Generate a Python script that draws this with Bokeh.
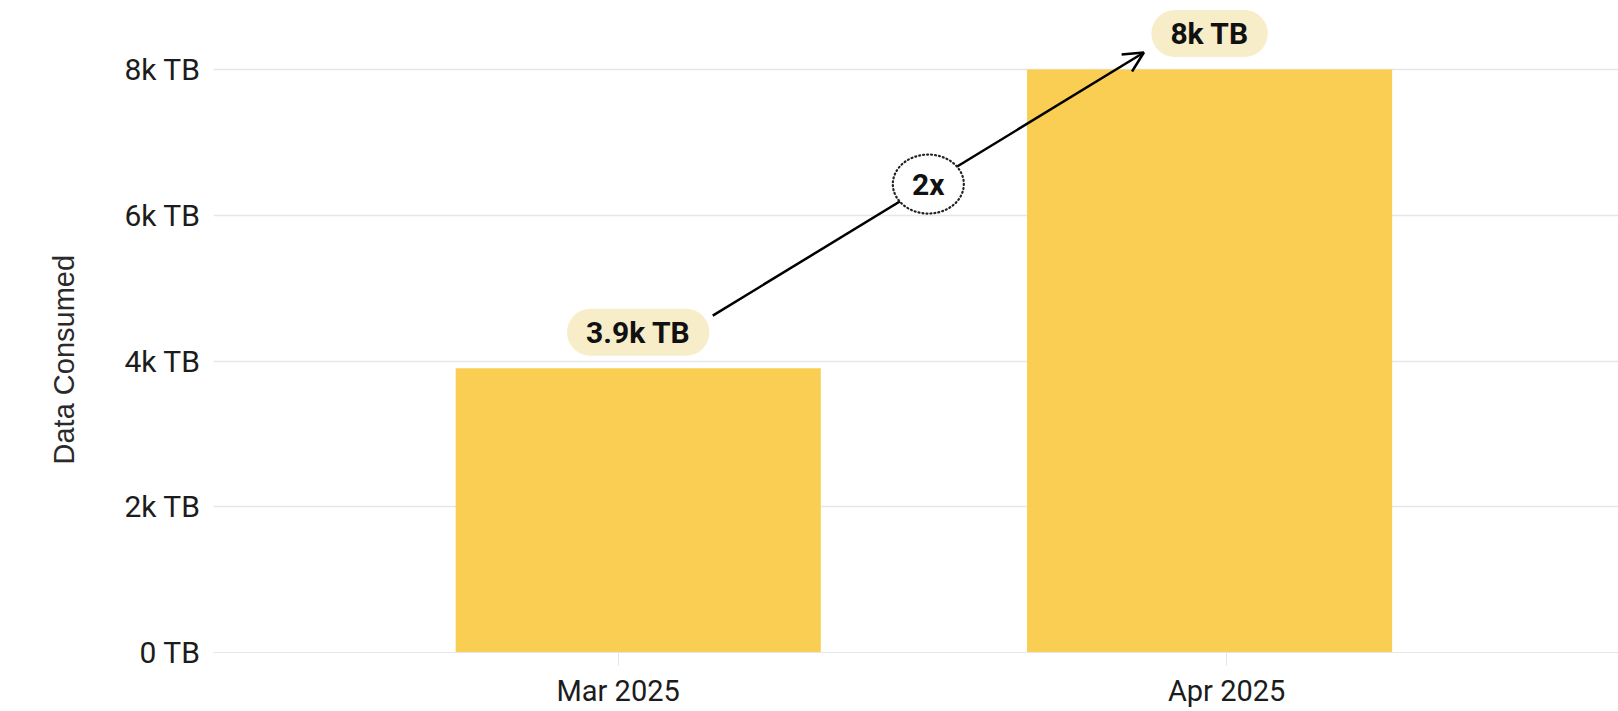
from bokeh.plotting import figure
from bokeh.models import Range1d, FixedTicker, Label, Arrow, OpenHead, Title
from bokeh.embed import file_html
from bokeh.resources import INLINE

# ---- data ----
categories = ["Mar 2025", "Apr 2025"]
values = [3900, 8000]                      # TB
y_ticks = [0, 2000, 4000, 6000, 8000]
y_tick_labels = ["0 TB", "2k TB", "4k TB", "6k TB", "8k TB"]
axis_title = "Data Consumed"

# ---- layout / style constants ----
FONT = "Roboto"
TITLE_FONT = "Liberation Sans"
BAR_COLOR = "#F9CE52"
BUBBLE_COLOR = "#F7EDC8"
GRID_COLOR = "#E6E6E6"
TEXT_COLOR = "#1C1C1C"
bar_shift = [0.033, -0.028]   # bars sit slightly inward from the month ticks
bar_width = 0.6

idx = list(range(len(categories)))
bar_x = [i + s for i, s in zip(idx, bar_shift)]

p = figure(width=1618, height=711, output_backend="svg", toolbar_location=None,
           x_range=Range1d(-0.665, 1.644), y_range=Range1d(0, 8947),
           min_border_left=213, min_border_right=0, min_border_top=0,
           min_border_bottom=59)
p.outline_line_color = None
p.background_fill_color = "white"

p.vbar(x=bar_x, top=values, width=bar_width, bottom=0,
       fill_color=BAR_COLOR, line_color=None)

# y axis
p.yaxis.ticker = FixedTicker(ticks=y_ticks)
p.yaxis.major_label_overrides = {t: l for t, l in zip(y_ticks, y_tick_labels)}
p.yaxis.axis_line_color = None
p.yaxis.major_tick_line_color = None
p.yaxis.minor_tick_line_color = None
p.yaxis.major_label_standoff = 7
p.yaxis.major_label_text_font = FONT
p.yaxis.major_label_text_font_size = "30px"
p.yaxis.major_label_text_color = TEXT_COLOR

# y axis title as a side title, so it can sit below the frame centre
p.add_layout(Title(text=axis_title, align="left", offset=188,
                   vertical_align="top", standoff=80,
                   text_font=TITLE_FONT, text_font_size="29px",
                   text_font_style="normal", text_color="#2a2a2a"), "left")

# x axis
p.xaxis.ticker = FixedTicker(ticks=idx)
p.xaxis.major_label_overrides = {i: c for i, c in zip(idx, categories)}
p.xaxis.axis_line_color = GRID_COLOR
p.xaxis.major_tick_line_color = GRID_COLOR
p.xaxis.major_tick_in = 0
p.xaxis.major_tick_out = 13
p.xaxis.minor_tick_line_color = None
p.xaxis.major_label_standoff = 8
p.xaxis.major_label_text_font = FONT
p.xaxis.major_label_text_font_size = "29px"
p.xaxis.major_label_text_color = TEXT_COLOR

p.xgrid.grid_line_color = None
p.ygrid.ticker = FixedTicker(ticks=y_ticks)
p.ygrid.grid_line_color = GRID_COLOR
p.ygrid.grid_line_width = 1.5

# value bubbles
for x, v in zip(bar_x, values):
    p.add_layout(Label(x=x, y=v, y_offset=36, text=f"{v/1000:g}k TB",
                       text_align="center", text_baseline="middle",
                       text_font=FONT, text_font_size="30px",
                       text_font_style="bold", text_color="#111111",
                       background_fill_color=BUBBLE_COLOR,
                       padding=dict(x=19, y=6), border_radius=24))

# growth arrow (positioned relative to the bars)
ax0, ay0 = bar_x[0] + 0.1225, values[0] + 723
ax1, ay1 = bar_x[1] - 0.108, values[1] + 233
p.add_layout(Arrow(x_start=ax0, y_start=ay0, x_end=ax1, y_end=ay1,
                   line_color="black", line_width=2.5,
                   end=OpenHead(size=20, line_width=2.5, line_color="black")))

mx, my = (ax0 + ax1) / 2, (ay0 + ay1) / 2
ell = p.ellipse(x=[mx], y=[my], width=71, height=59, width_units="screen",
                height_units="screen", fill_color="white", line_color="#222222",
                line_width=2.2, line_dash="1 3", line_cap="round")
ell.level = "overlay"
p.add_layout(Label(x=mx, y=my, text=f"{round(values[1]/values[0])}x",
                   text_align="center", text_baseline="middle",
                   text_font=FONT, text_font_size="30px",
                   text_font_style="bold", text_color="#111111",
                   level="overlay"))

open("out.html", "w").write(file_html(p, INLINE))
